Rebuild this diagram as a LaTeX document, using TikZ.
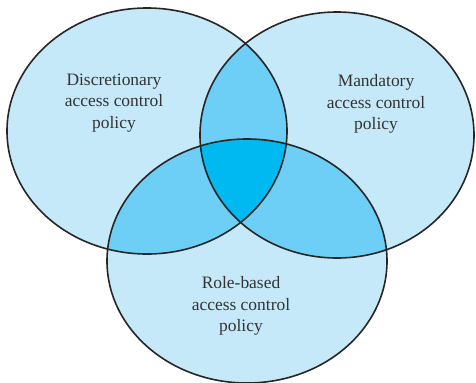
\documentclass[tikz,border=0pt]{standalone}
\usepackage{fontspec}
\setmainfont{Liberation Serif}
\definecolor{setlight}{HTML}{C6E9F9}
\definecolor{setmid}{HTML}{6DCFF6}
\definecolor{setdark}{HTML}{00B9F1}
\tikzset{
  venn/.style={draw=black!85, line width=1.6bp},
  setlabel/.style={
    align=center,
    text=black!80,
    font=\fontsize{17.5}{21.7}\selectfont}
  }
\begin{document}
\begin{tikzpicture}[x=1bp,y=-1bp]
    \useasboundingbox (0,0) rectangle (476,382);
    \def\dac{(147,131) ellipse [x radius=140bp, y radius=123bp]}
    \def\mac{(337,135) ellipse [x radius=137bp, y radius=123bp]}
    \def\rbac{(247,261) ellipse [x radius=140bp, y radius=122bp]}
    \fill[setlight] \dac;
    \fill[setlight] \mac;
    \fill[setlight] \rbac;
    \begin{scope}
      \clip \dac;
      \fill[setmid] \mac;
      \fill[setmid] \rbac;
    \end{scope}
    \begin{scope}
      \clip \mac;
      \fill[setmid] \rbac;
    \end{scope}
    \begin{scope}
      \clip \dac;
      \clip \mac;
      \fill[setdark] \rbac;
    \end{scope}
    \draw[venn] \dac;
    \draw[venn] \mac;
    \draw[venn] \rbac;
    \node[setlabel] (dacl) at (114,103) {Discretionary\\access control\\policy};
    \node[setlabel] (macl) at (376,104) {Mandatory\\access control\\policy};
    \node[setlabel] (rbacl) at (241,306) {Role-based\\access control\\policy};
  \end{tikzpicture}
\end{document}
